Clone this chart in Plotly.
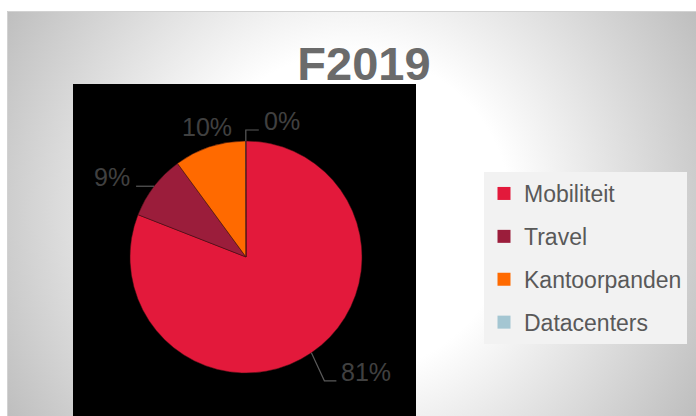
import base64
import math
import plotly.graph_objects as go

# ---------------- data ----------------
categories = ["Mobiliteit", "Travel", "Kantoorpanden", "Datacenters"]
values = [80.9, 9.0, 10.0, 0.05]
colors = ["#E3193B", "#9B1D3B", "#FF6A00", "#A4C6D2"]
title_text = "F2019"

# ---------------- layout constants (pixels) ----------------
W, H = 696, 416
CX, CY, R = 246, 257, 116          # pie centre / radius


def px(x):
    return x / W


def py(y):
    return 1 - y / H


# label placement relative to the slice's outer edge point (pixels)
label_style = {
    "Mobiliteit": dict(dx=55, dy=19, leader=[(13, 28), (25, 28)]),
    "Travel": dict(dx=-42, dy=-9, leader=[(-18, 0)]),
    "Kantoorpanden": dict(dx=-3, dy=-20, leader=[]),
    "Datacenters": dict(dx=36, dy=-20, leader=[(0, -11), (13, -11)]),
}

total = sum(values)
pcts = [f"{round(v / total * 100)}%" for v in values]

# ---------------- background gradient (svg image) ----------------
gw, gh = W - 7, H - 11
svg = f'''<svg xmlns="http://www.w3.org/2000/svg" width="{gw}" height="{gh}" viewBox="0 0 {gw} {gh}">
<defs><radialGradient id="g" gradientUnits="userSpaceOnUse" cx="{351-7}" cy="{213-11}" r="400">
<stop offset="0.4" stop-color="#ffffff"/><stop offset="1" stop-color="#bebebe"/></radialGradient></defs>
<rect x="0" y="0" width="{gw}" height="{gh}" fill="url(#g)"/></svg>'''
src = "data:image/svg+xml;base64," + base64.b64encode(svg.encode()).decode()

fig = go.Figure()

fig.add_trace(go.Pie(
    labels=categories, values=values,
    marker=dict(colors=colors, line=dict(width=0.5, color="#3a1010")),
    sort=False, direction="clockwise", rotation=0,
    textinfo="none", hoverinfo="label+percent", showlegend=False,
    domain=dict(x=[px(CX - R), px(CX + R)], y=[py(CY + R), py(CY - R)]),
))

# legend entries (square swatches)
for cat, col in zip(categories, colors):
    fig.add_trace(go.Scatter(
        x=[None], y=[None], mode="markers", name=cat, legendgroup=cat,
        marker=dict(symbol="square", size=13, color=col),
        showlegend=True, hoverinfo="skip",
    ))

annotations = []
shapes = [
    dict(type="rect", xref="paper", yref="paper", x0=px(73), x1=px(416),
         y0=py(416), y1=py(84), fillcolor="black", line=dict(width=0), layer="below"),
    dict(type="rect", xref="paper", yref="paper", x0=px(7.5), x1=px(700),
         y0=py(420), y1=py(11.5), line=dict(color="#d2d2d2", width=1), layer="below"),
]

acc = 0.0
for cat, v, txt in zip(categories, values, pcts):
    mid = (acc + v / 2) / total * 2 * math.pi
    acc += v
    ex = CX + R * math.sin(mid)
    ey = CY - R * math.cos(mid)
    st = label_style[cat]
    annotations.append(dict(
        x=px(ex + st["dx"]), y=py(ey + st["dy"]), xref="paper", yref="paper",
        text=txt, showarrow=False, xanchor="center", yanchor="middle",
        font=dict(family="Liberation Sans, Arial, sans-serif", size=25, color="#404040"),
    ))
    if st["leader"]:
        pts = [(ex, ey)] + [(ex + a, ey + b) for a, b in st["leader"]]
        path = "M " + " L ".join(f"{px(a)},{py(b)}" for a, b in pts)
        shapes.append(dict(type="path", xref="paper", yref="paper", path=path,
                           line=dict(color="#5a5a5a", width=1.2)))

fig.update_layout(
    width=W, height=H,
    margin=dict(l=0, r=0, t=0, b=0),
    paper_bgcolor="white", plot_bgcolor="rgba(0,0,0,0)",
    xaxis=dict(visible=False), yaxis=dict(visible=False),
    title=dict(text=f"<b>{title_text}</b>", x=px(364), xanchor="center",
               yref="container", y=py(64), yanchor="middle",
               font=dict(family="Liberation Sans, Arial, sans-serif",
                         size=47, color="#6b6b6b")),
    legend=dict(x=px(484), y=py(172), xanchor="left", yanchor="top",
                bgcolor="#f2f2f2", borderwidth=0, tracegroupgap=10,
                font=dict(family="Liberation Sans, Arial, sans-serif", size=23, color="#595959")),
    images=[dict(source=src, xref="paper", yref="paper", x=px(7), y=py(11),
                 sizex=px(W) - px(7), sizey=py(11) - py(H), sizing="stretch",
                 xanchor="left", yanchor="top", layer="below")],
    shapes=shapes, annotations=annotations,
)

fig.write_html("out.html", config={"displayModeBar": False},
               post_script="document.body.style.margin='0';document.body.style.overflow='hidden';")
